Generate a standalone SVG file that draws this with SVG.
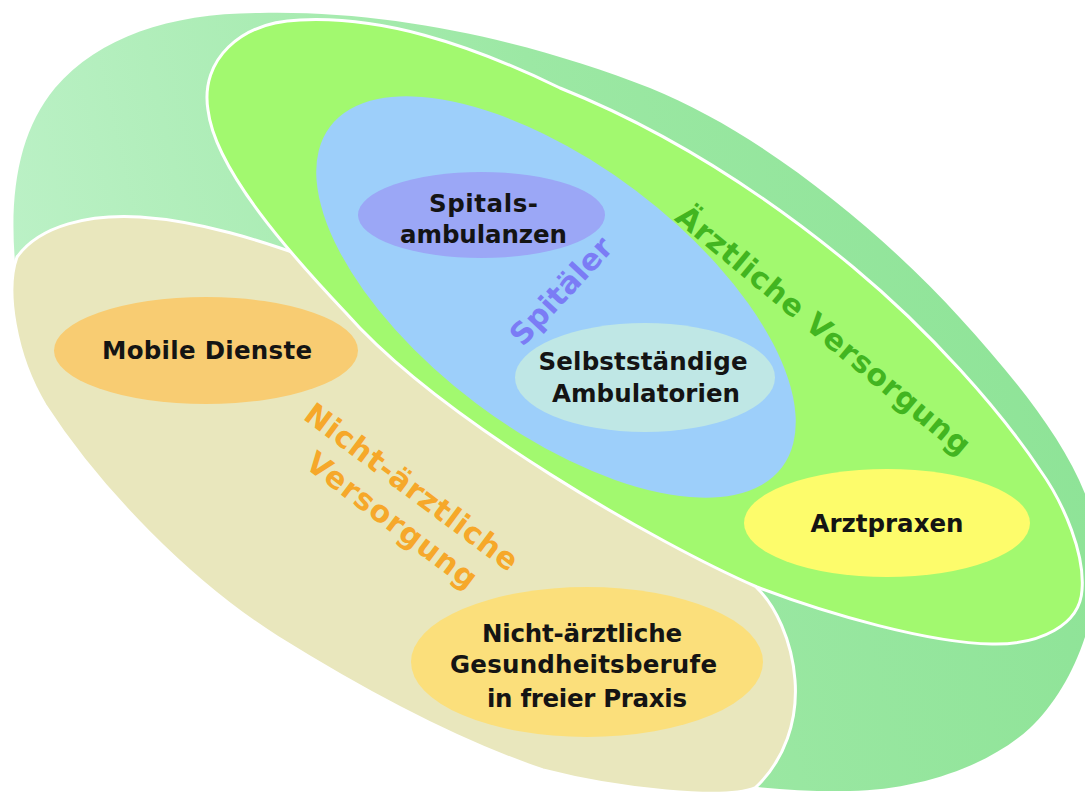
<svg xmlns="http://www.w3.org/2000/svg" width="1085" height="795" viewBox="0 0 1085 795">
<defs>
<linearGradient id="gOuter" x1="0" y1="500" x2="1085" y2="250" gradientUnits="userSpaceOnUse">
<stop offset="0" stop-color="#bff2ca"/>
<stop offset="0.55" stop-color="#9ce8a4"/>
<stop offset="1" stop-color="#8de396"/>
</linearGradient>
</defs>
<style>
.lbl{font-family:"DejaVu Sans",Verdana,sans-serif;font-weight:bold;font-size:24.5px;fill:#141414;text-anchor:middle}
.big{font-family:"DejaVu Sans",Verdana,sans-serif;font-weight:bold;font-size:30px;text-anchor:middle;dominant-baseline:central}
.ring{stroke:#ffffff;stroke-width:3;stroke-linejoin:round}
</style>
<rect width="1085" height="795" fill="#ffffff"/>
<g id="outer-ring">
<path d="M 260,13 C 400,10 540,45 650,88 C 760,132 880,230 960,318 C 1030,395 1098,480 1098,555 C 1098,625 1070,690 1030,728 C 990,765 920,790 850,791 C 780,792 720,785 680,770 L 300,560 L 40,320 L 15,262 C 9,190 20,130 55,88 C 100,36 172,13 260,13 Z" fill="url(#gOuter)"/>
</g>
<g id="connectors"/>
<g id="nicht-aerztliche-versorgung">
<path d="M 17,257 C 40,225 90,214 140,217 C 200,221 260,240 320,262 L 600,450 L 740,560 L 757,588 C 775,605 792,640 795,680 C 798,720 785,760 755,788 C 725,800 620,790 543,770 C 460,742 370,695 277,637 C 190,582 100,490 45,405 C 15,355 5,290 17,257 Z" fill="#e9e7bd" class="ring"/>
<text class="big" fill="#f6a82a" transform="translate(411.7 487) rotate(36.7)" textLength="258" lengthAdjust="spacing">Nicht-ärztliche</text>
<text class="big" fill="#f6a82a" transform="translate(392 520) rotate(37)" textLength="205" lengthAdjust="spacing">Versorgung</text>
</g>
<g id="mobile-dienste">
<ellipse cx="206" cy="350.5" rx="152" ry="53.5" fill="#f8cc72"/>
<text class="lbl" x="207" y="359" textLength="210" lengthAdjust="spacing">Mobile Dienste</text>
</g>
<g id="gesundheitsberufe">
<ellipse cx="587" cy="662" rx="176" ry="75" fill="#fbdf7b"/>
<text class="lbl" x="582" y="642" textLength="200" lengthAdjust="spacing">Nicht-ärztliche</text>
<text class="lbl" x="583.5" y="673" textLength="267" lengthAdjust="spacing">Gesundheitsberufe</text>
<text class="lbl" x="587" y="707" textLength="200" lengthAdjust="spacing">in freier Praxis</text>
</g>
<g id="aerztliche-versorgung">
<path d="M 208,110 C 200,60 240,22 300,20 C 380,16 465,42 560,88 C 660,128 760,190 853,267 C 930,331 1000,410 1040,470 C 1065,505 1085,555 1082,590 C 1080,625 1040,645 992,644 C 930,643 830,615 757,587 C 660,545 440,420 346,313 C 292,256 215,170 208,110 Z" fill="#a2f96f" class="ring"/>
<text class="big" fill="#42b520" transform="translate(823.5 330) rotate(39.6)" textLength="372" lengthAdjust="spacing">Ärztliche Versorgung</text>
</g>
<g id="spitaeler">
<ellipse cx="556" cy="297" rx="283" ry="133" transform="rotate(37 556 297)" fill="#9dcffa"/>
<text class="big" fill="#7b7cf5" transform="translate(561 291) rotate(-47)" textLength="135" lengthAdjust="spacing">Spitäler</text>
</g>
<g id="spitalsambulanzen">
<ellipse cx="481.5" cy="215" rx="123.5" ry="43" fill="#9ba7f6"/>
<text class="lbl" x="483.5" y="212" textLength="109" lengthAdjust="spacing">Spitals-</text>
<text class="lbl" x="483.5" y="243" textLength="167" lengthAdjust="spacing">ambulanzen</text>
</g>
<g id="selbststaendige-ambulatorien">
<ellipse cx="645" cy="377.5" rx="130" ry="54.5" fill="#bfe7e5"/>
<text class="lbl" x="643" y="370" textLength="209" lengthAdjust="spacing">Selbstständige</text>
<text class="lbl" x="646" y="402" textLength="188" lengthAdjust="spacing">Ambulatorien</text>
</g>
<g id="arztpraxen">
<ellipse cx="887" cy="523" rx="143" ry="54" fill="#fdfc6b"/>
<text class="lbl" x="887" y="532" textLength="153" lengthAdjust="spacing">Arztpraxen</text>
</g>
</svg>
